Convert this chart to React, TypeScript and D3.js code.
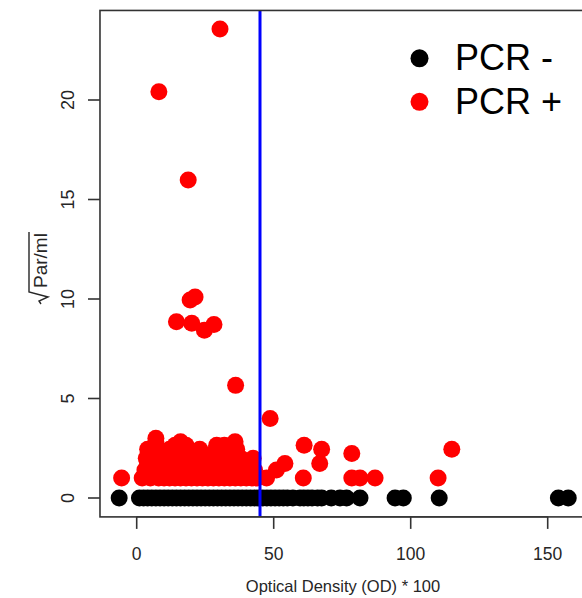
import React from "react";
import * as d3 from "d3";

// PCR negative samples: OD*100 (all at sqrt(Par/ml) = 0)
const pcrNegX: number[] = [
  -6.4, 1, 2.5, 4, 5.5, 7, 8.5, 10, 11.5, 13, 14.5, 16, 17.5, 19, 20.5, 22, 23.5, 25,
  26.5, 28, 29.5, 31, 32.5, 34, 35.5, 37, 38.5, 40, 41.5, 43, 44.5, 46, 47.5, 49,
  50.5, 52, 53.5, 55, 57, 59.6, 61, 62.5, 64, 66, 67.5, 71, 74.2, 76.6, 81.5, 94.3,
  97.3, 110.4, 153.9, 157.5,
];
const pcrNegY: number[] = pcrNegX.map(() => 0);

// PCR positive samples
const pcrPosX: number[] = [
  // high values
  30.4, 8.1, 18.8, 19.5, 21.3, 14.5, 20.1, 24.7, 28.2, 36.1, 48.7,
  // y ~ 1
  -5.5, 2, 5, 8, 10, 12, 14, 16, 18, 20, 22, 24, 26, 28, 30, 32, 34, 36, 38, 40, 42,
  44, 47.4, 60.8, 78.5, 81.5, 87, 110,
  // y ~ 1.41
  3, 6, 9, 12, 15, 19, 23, 27, 31, 34, 38, 41, 43, 51,
  // y ~ 1.73
  4, 7, 11, 14, 17, 21, 26, 30, 33, 39.5, 42, 54.1, 66.8,
  // y ~ 2
  3.5, 8, 13, 16, 22, 25, 28, 34, 38, 42.5,
  // y ~ 2.24
  6, 10, 15, 19, 24, 31, 36, 78.5,
  // y ~ 2.45
  4, 12, 17, 23, 29, 36.5, 67.5, 115,
  // y ~ 2.65
  14, 18, 29.2, 32, 61.1,
  // y ~ 2.83
  7, 16, 35.9,
  // y ~ 3
  7,
];
const pcrPosY: number[] = [
  23.57, 20.42, 15.98, 9.95, 10.1, 8.86, 8.78, 8.43, 8.72, 5.66, 4.0,
  1, 1, 1, 1, 1, 1, 1, 1, 1, 1, 1, 1, 1, 1, 1, 1, 1, 1, 1, 1, 1,
  1, 1, 1, 1, 1, 1, 1,
  1.41, 1.41, 1.41, 1.41, 1.41, 1.41, 1.41, 1.41, 1.41, 1.41, 1.41, 1.41, 1.41, 1.41,
  1.73, 1.73, 1.73, 1.73, 1.73, 1.73, 1.73, 1.73, 1.73, 1.73, 1.73, 1.73, 1.73,
  2, 2, 2, 2, 2, 2, 2, 2, 2, 2,
  2.24, 2.24, 2.24, 2.24, 2.24, 2.24, 2.24, 2.24,
  2.45, 2.45, 2.45, 2.45, 2.45, 2.45, 2.45, 2.45,
  2.65, 2.65, 2.65, 2.65, 2.65,
  2.83, 2.83, 2.83,
  3,
];

const xTicks: number[] = [0, 50, 100, 150];
const yTicks: number[] = [0, 5, 10, 15, 20];
const cutoff = 45;
const legendLabels: string[] = ["PCR -", "PCR +"];
const legendColors: string[] = ["#000000", "#ff0000"];

const FONT = "Arial, 'Liberation Sans', Helvetica, sans-serif";

export default function App() {
  const W = 582;
  const H = 598;
  const x = d3.scaleLinear().domain([0, 150]).range([136.7, 547.7]);
  const y = d3.scaleLinear().domain([0, 20]).range([498, 100]);
  const xMin = -13.4;
  const xMax = 163.8;
  const yMin = -0.95;
  const yMax = 24.5;
  const left = x(xMin);
  const right = x(xMax);
  const top = y(yMax);
  const bottom = y(yMin);
  const r = 8.5;
  const textColor = "#262626";

  return (
    <svg
      width={W}
      height={H}
      style={{ position: "absolute", left: 0, top: 0, background: "#fff" }}
      fontFamily={FONT}
    >
      <rect x={0} y={0} width={W} height={H} fill="#fff" />
      {/* points */}
      {pcrNegX.map((v, i) => (
        <circle key={"n" + i} cx={x(v)} cy={y(pcrNegY[i])} r={r} fill="#000" />
      ))}
      {pcrPosX.map((v, i) => (
        <circle key={"p" + i} cx={x(v)} cy={y(pcrPosY[i])} r={r} fill="#ff0000" />
      ))}
      {/* cutoff line */}
      <line x1={x(cutoff)} x2={x(cutoff)} y1={top} y2={bottom} stroke="#0000ff" strokeWidth={3} />
      {/* frame */}
      <rect
        x={left}
        y={top}
        width={right - left}
        height={bottom - top}
        fill="none"
        stroke="#333"
        strokeWidth={1.6}
      />
      {/* x axis */}
      <line x1={x(xTicks[0])} x2={x(xTicks[xTicks.length - 1])} y1={bottom} y2={bottom} stroke="#333" strokeWidth={1.4} />
      {xTicks.map((t) => (
        <g key={"xt" + t}>
          <line x1={x(t)} x2={x(t)} y1={bottom} y2={bottom + 12} stroke="#333" strokeWidth={1.6} />
          <text x={x(t)} y={560} textAnchor="middle" fontSize={17.5} fill={textColor}>
            {t}
          </text>
        </g>
      ))}
      <text x={343} y={592} textAnchor="middle" fontSize={16.5} fill={textColor}>
        Optical Density (OD) * 100
      </text>
      {/* y axis */}
      {yTicks.map((t) => (
        <g key={"yt" + t}>
          <line x1={left - 12} x2={left} y1={y(t)} y2={y(t)} stroke="#333" strokeWidth={1.6} />
          <text
            transform={`translate(74,${y(t)}) rotate(-90)`}
            textAnchor="middle"
            fontSize={18}
            fill={textColor}
          >
            {t}
          </text>
        </g>
      ))}
      {/* y axis title: sqrt(Par/ml) */}
      <g transform="translate(47,259) rotate(-90)">
        <text x={-29} y={0} fontSize={19} fill={textColor}>
          Par/ml
        </text>
        <path
          d="M -45 -6 L -42 -8 L -38 1 L -33 -18 L 27 -18"
          fill="none"
          stroke={textColor}
          strokeWidth={1.4}
        />
      </g>
      {/* legend */}
      {legendLabels.map((l, i) => (
        <g key={"lg" + i}>
          <circle cx={419.5} cy={58.3 + i * 43.5} r={9} fill={legendColors[i]} />
          <text x={455} y={70 + i * 43.5} fontSize={36} fill="#000">
            {l}
          </text>
        </g>
      ))}
    </svg>
  );
}
